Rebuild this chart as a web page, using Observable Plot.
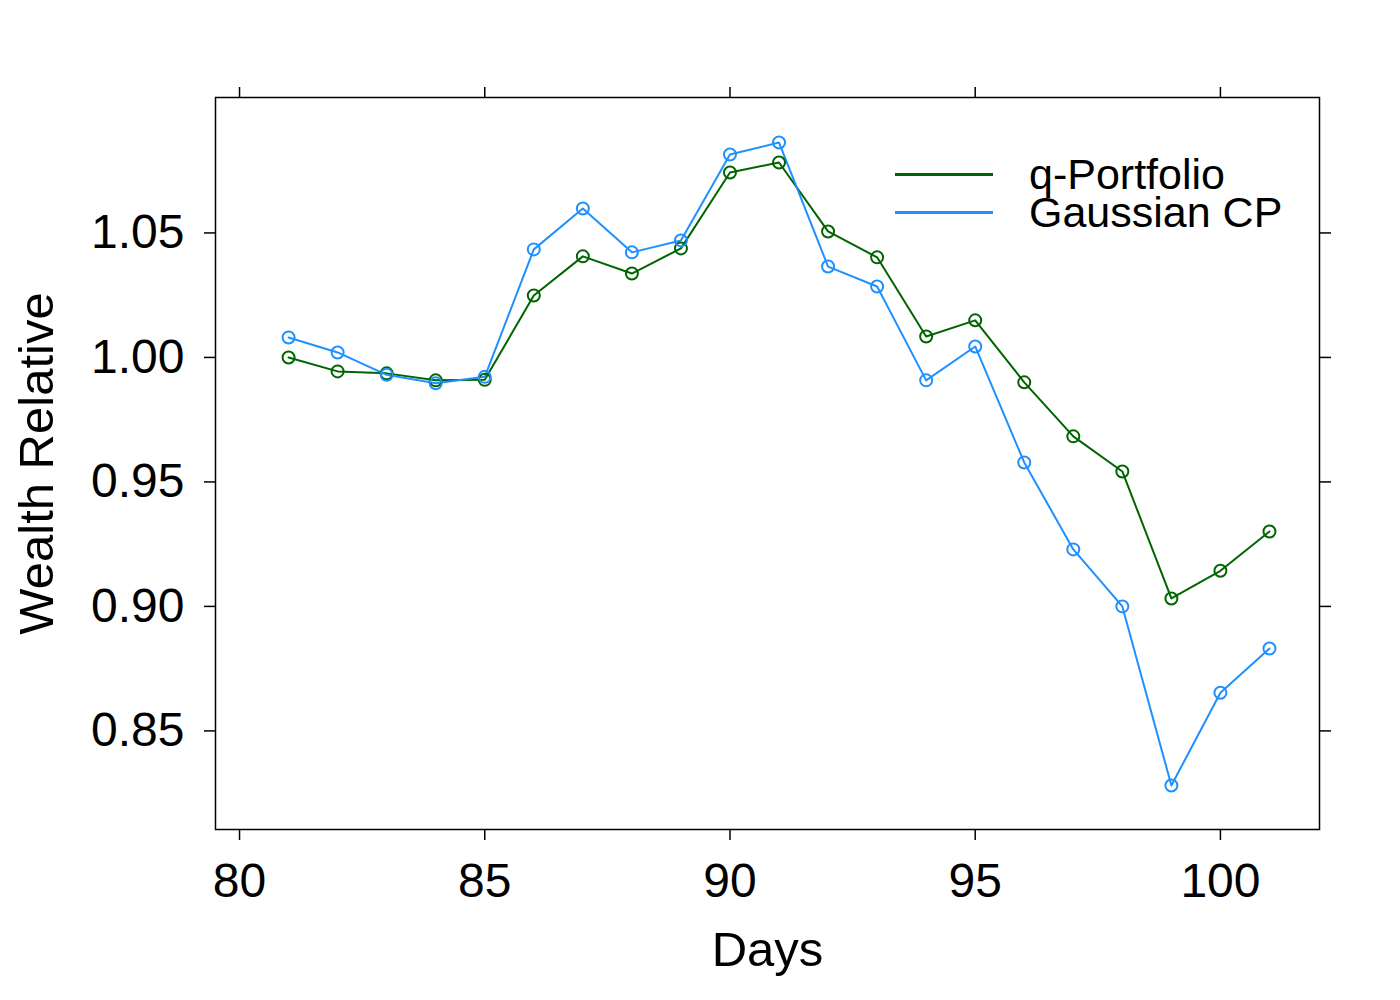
<!DOCTYPE html>
<html>
<head>
<meta charset="utf-8">
<script src="https://cdn.jsdelivr.net/npm/d3@7"></script>
<script src="https://cdn.jsdelivr.net/npm/@observablehq/plot@0.6"></script>
<style>
  html, body { margin: 0; padding: 0; background: #fff; }
  #wrap { position: relative; width: 1400px; height: 1000px; font-family: "Liberation Sans", Arial, sans-serif; }
  #legend { position: absolute; left: 895px; top: 155px; font-size: 43px; line-height: 38px; color: #000; }
  .item { display: flex; align-items: center; }
  .sw { display: inline-block; width: 98px; height: 3px; margin-right: 36px; }
</style>
</head>
<body>
<div id="wrap"></div>
<script>
const days = [81,82,83,84,85,86,87,88,89,90,91,92,93,94,95,96,97,98,99,100,101];
const qPortfolio = [1.000,0.9944,0.9936,0.9908,0.9910,1.0249,1.0406,1.0337,1.0438,1.0743,1.0783,1.0506,1.0402,1.0084,1.0149,0.9900,0.9683,0.9542,0.9032,0.9143,0.9301];
const gaussianCP = [1.0080,1.0020,0.9930,0.9896,0.9922,1.0434,1.0598,1.0422,1.0470,1.0815,1.0863,1.0365,1.0285,0.9908,1.0044,0.9578,0.9229,0.9000,0.8281,0.8653,0.8831];
const seriesNames = ["q-Portfolio", "Gaussian CP"];
const seriesColors = ["#006400", "#1E90FF"];
const xTicks = [80,85,90,95,100];
const yTicks = [0.85,0.90,0.95,1.00,1.05];

const data = [];
days.forEach((d,i) => {
  data.push({day: d, value: qPortfolio[i], series: seriesNames[0]});
  data.push({day: d, value: gaussianCP[i], series: seriesNames[1]});
});

const chart = Plot.plot({
  width: 1400,
  height: 1000,
  marginLeft: 215,
  marginRight: 81,
  marginTop: 97,
  marginBottom: 171,
  style: {fontFamily: '"Liberation Sans", Arial, sans-serif', fontSize: "48px", color: "#000", background: "#fff"},
  x: {domain: [79.51, 102.02]},
  y: {domain: [0.8104, 1.1044]},
  color: {domain: seriesNames, range: seriesColors},
  marks: [
    Plot.frame({stroke: "#000", strokeWidth: 1.5}),
    Plot.axisX({anchor: "bottom", ticks: xTicks, tickSize: 11, tickPadding: 22, strokeWidth: 1.5, label: null, fontSize: 48}),
    Plot.axisX({anchor: "top", ticks: xTicks, tickSize: 11, tickFormat: () => "", strokeWidth: 1.5, label: null}),
    Plot.axisY({anchor: "left", ticks: yTicks, tickSize: 11, tickPadding: 20, strokeWidth: 1.5, tickFormat: d3.format(".2f"), label: null, fontSize: 48}),
    Plot.axisY({anchor: "right", ticks: yTicks, tickSize: 11, tickFormat: () => "", strokeWidth: 1.5, label: null}),
    Plot.line(data, {x: "day", y: "value", z: "series", stroke: "series", strokeWidth: 2}),
    Plot.dot(data, {x: "day", y: "value", stroke: "series", r: 6, strokeWidth: 2, fill: "none"}),
    Plot.text(["Days"], {frameAnchor: "bottom", dy: 136, fontSize: 49, text: d => d}),
    Plot.text(["Wealth Relative"], {frameAnchor: "left", dx: -178, rotate: -90, textAnchor: "middle", fontSize: 49, text: d => d})
  ]
});

const wrap = document.getElementById("wrap");
wrap.appendChild(chart);

const legend = document.createElement("div");
legend.id = "legend";
seriesNames.forEach((n, i) => {
  const it = document.createElement("div");
  it.className = "item";
  const sw = document.createElement("span");
  sw.className = "sw";
  sw.style.background = seriesColors[i];
  const t = document.createElement("span");
  t.textContent = n;
  it.appendChild(sw); it.appendChild(t);
  legend.appendChild(it);
});
wrap.appendChild(legend);
</script>
</body>
</html>
